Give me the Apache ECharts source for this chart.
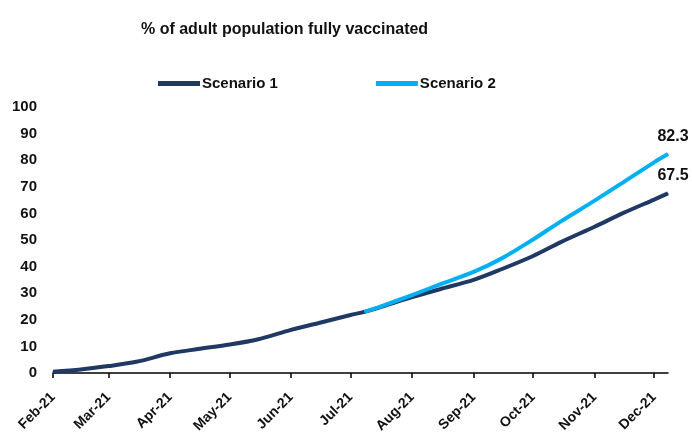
<!DOCTYPE html>
<html>
<head>
<meta charset="utf-8">
<script src="https://cdn.jsdelivr.net/npm/echarts@6/dist/echarts.min.js"></script>
<style>
  html, body { margin: 0; padding: 0; background: #fff; }
  #chart { width: 692px; height: 437px; }
</style>
</head>
<body>
<div id="chart"></div>
<script>
const FONT = "'Liberation Sans', sans-serif"

const dates = [
  '2021-02-01', '2021-02-15', '2021-03-01', '2021-03-15', '2021-04-01', '2021-04-15',
  '2021-05-01', '2021-05-15', '2021-06-01', '2021-06-15', '2021-07-01', '2021-07-08',
  '2021-07-15', '2021-08-01', '2021-08-15', '2021-09-01', '2021-09-15', '2021-10-01',
  '2021-10-15', '2021-11-01', '2021-11-15', '2021-12-01', '2021-12-08'
]
const scenario1 = [
  0.5, 1.3, 2.6, 4.2, 7.4, 9.0,
  10.7, 12.6, 16.2, 18.8, 21.8, 23.0,
  24.5, 28.5, 31.5, 35.0, 39.0, 44.0,
  49.2, 55.0, 60.0, 65.2, 67.5
]
const scenario2 = [
  null, null, null, null, null, null,
  null, null, null, null, null, 23.0,
  24.7, 29.3, 33.3, 38.0, 43.0, 50.2,
  57.0, 64.8, 71.5, 79.2, 82.3
]
const yTicks = { min: 0, max: 100, interval: 10 }
const MONTHS = ['Jan', 'Feb', 'Mar', 'Apr', 'May', 'Jun', 'Jul', 'Aug', 'Sep', 'Oct', 'Nov', 'Dec']

const last = dates.length - 1
const toPairs = vals => dates.map((d, i) => [d, vals[i]]).filter(p => p[1] !== null)

const endLabel = {
  show: true,
  position: 'top',
  distance: 9,
  offset: [5, 0],
  color: '#111',
  fontFamily: FONT,
  fontWeight: 'bold',
  fontSize: 16,
  formatter: p => (p.value[0] === dates[last] ? p.value[1].toFixed(1) : '')
}

const chart = echarts.init(document.getElementById('chart'))

chart.setOption({
  animation: false,
  title: {
    text: '% of adult population fully vaccinated',
    left: 136,
    top: 17,
    textStyle: { fontFamily: FONT, fontWeight: 'bold', fontSize: 16, color: '#111' }
  },
  legend: {
    left: 153,
    top: 71,
    itemWidth: 42,
    itemHeight: 5,
    itemGap: 98,
    icon: 'rect',
    textStyle: { fontFamily: FONT, fontWeight: 'bold', fontSize: 15, color: '#111', padding: [0, 0, 0, -3] },
    data: ['Scenario 1', 'Scenario 2']
  },
  grid: { left: 53, right: 24, top: 107, bottom: 64 },
  xAxis: {
    type: 'time',
    min: dates[0],
    max: dates[last],
    splitNumber: 11,
    minInterval: 28 * 86400000,
    maxInterval: 31 * 86400000,
    axisLine: { lineStyle: { color: '#000', width: 1.5 } },
    axisTick: { show: true, length: 5, inside: false, lineStyle: { color: '#000', width: 1.5 } },
    splitLine: { show: false },
    axisLabel: {
      rotate: 45,
      margin: 22,
      color: '#111',
      fontFamily: FONT,
      fontWeight: 'bold',
      fontSize: 14,
      showMaxLabel: false,
      formatter: v => {
        const d = new Date(v)
        return MONTHS[d.getMonth()] + '-' + String(d.getFullYear()).slice(2)
      }
    }
  },
  yAxis: {
    type: 'value',
    min: yTicks.min,
    max: yTicks.max,
    interval: yTicks.interval,
    axisLine: { show: false },
    axisTick: { show: false },
    splitLine: { show: false },
    axisLabel: { margin: 16, color: '#111', fontFamily: FONT, fontWeight: 'bold', fontSize: 15 }
  },
  series: [
    {
      name: 'Scenario 1',
      type: 'line',
      data: toPairs(scenario1),
      smooth: 0.3,
      symbol: 'circle',
      symbolSize: 1,
      showSymbol: true,
      color: '#1F3864',
      lineStyle: { color: '#1F3864', width: 4 },
      label: endLabel,
      z: 2
    },
    {
      name: 'Scenario 2',
      type: 'line',
      data: toPairs(scenario2),
      smooth: 0.3,
      symbol: 'circle',
      symbolSize: 1,
      showSymbol: true,
      color: '#00B0F0',
      lineStyle: { color: '#00B0F0', width: 4 },
      label: endLabel,
      z: 3
    }
  ]
})
</script>
</body>
</html>
